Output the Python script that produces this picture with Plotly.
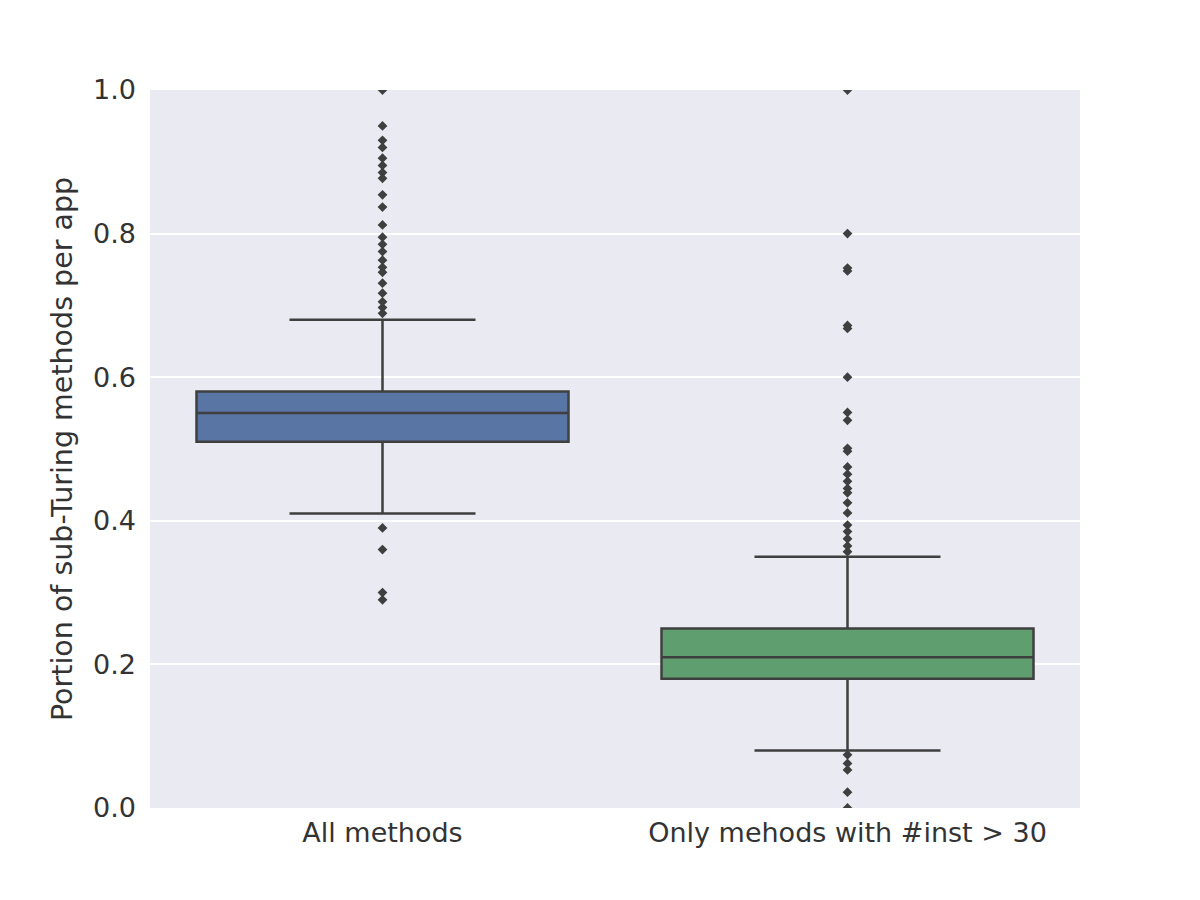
import plotly.graph_objects as go

categories = ["All methods", "Only mehods with #inst > 30"]
q1 = [0.51, 0.18]
median = [0.55, 0.21]
q3 = [0.58, 0.25]
lowerfence = [0.41, 0.08]
upperfence = [0.68, 0.35]
colors = ["#5975a4", "#5f9e6e"]

outliers_all = [1.0, 0.95, 0.93, 0.92, 0.905, 0.895, 0.885, 0.877, 0.854, 0.837, 0.812,
                0.795, 0.785, 0.775, 0.763, 0.753, 0.746, 0.731, 0.717, 0.705, 0.697, 0.689,
                0.39, 0.36, 0.30, 0.29]
outliers_inst = [1.0, 0.80, 0.752, 0.748, 0.672, 0.668, 0.60, 0.551, 0.54, 0.501, 0.497,
                 0.475, 0.465, 0.455, 0.445, 0.439, 0.425, 0.411, 0.394, 0.385, 0.375,
                 0.365, 0.357, 0.074, 0.062, 0.053, 0.022, 0.0]
outliers = [outliers_all, outliers_inst]

fig = go.Figure()
for i, cat in enumerate(categories):
    fig.add_trace(go.Box(
        x=[cat], q1=[q1[i]], median=[median[i]], q3=[q3[i]],
        lowerfence=[lowerfence[i]], upperfence=[upperfence[i]],
        fillcolor=colors[i], line=dict(color="#3f3f3f", width=2.5),
        width=0.8, whiskerwidth=0.5, boxpoints=False, showlegend=False,
        hoverinfo="skip",
    ))
    fig.add_trace(go.Scatter(
        x=[cat] * len(outliers[i]), y=outliers[i], mode="markers",
        marker=dict(symbol="diamond", size=7.5, color="#3f3f3f"),
        showlegend=False, cliponaxis=True,
    ))

fig.update_layout(
    width=1200, height=900,
    paper_bgcolor="white", plot_bgcolor="#EAEAF2",
    margin=dict(l=150, r=120, t=90, b=92),
    boxmode="overlay",
    font=dict(family="DejaVu Sans", color="#333333", size=27),
)
fig.update_xaxes(
    type="category", categoryorder="array", categoryarray=categories,
    showgrid=False, zeroline=False, showline=False, ticks="",
    tickfont=dict(size=27, color="#333333"), ticklabelstandoff=6,
)
fig.update_yaxes(
    range=[0, 1], tickvals=[0, 0.2, 0.4, 0.6, 0.8, 1.0], tickformat=".1f",
    showgrid=True, gridcolor="white", gridwidth=1.5, zeroline=False, showline=False,
    ticks="", tickfont=dict(size=27, color="#333333"), ticklabelstandoff=13,
    title=dict(text="Portion of sub-Turing methods per app", font=dict(size=28.5, color="#333333"), standoff=12),
)

fig.write_html("out.html")
